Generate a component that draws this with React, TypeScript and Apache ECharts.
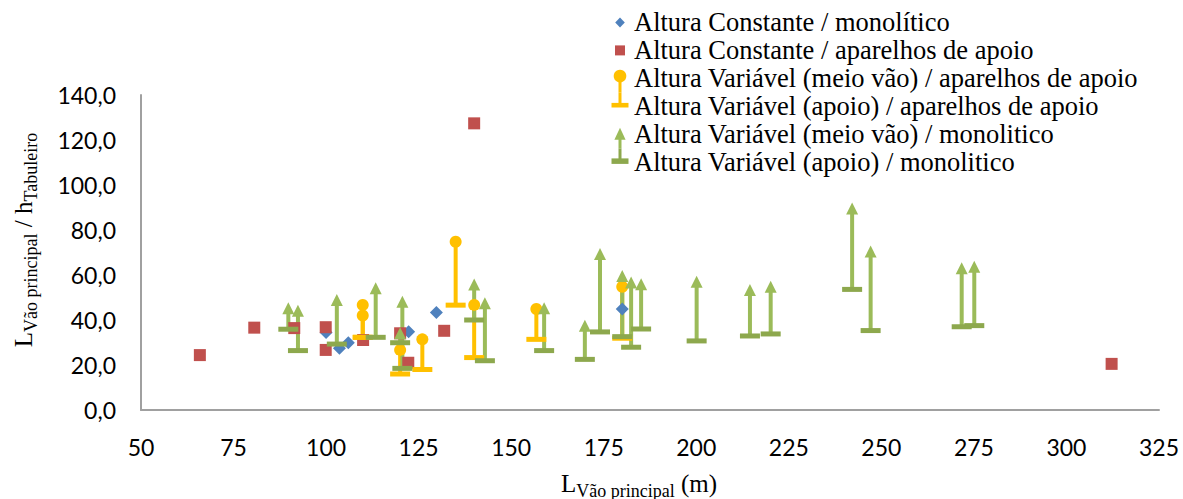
import { useEffect, useRef } from 'react';
import * as echarts from 'echarts';

// ---- data ----
const seriesNames = [
  'Altura Constante / monolítico',
  'Altura Constante / aparelhos de apoio',
  'Altura Variável (meio vão) / aparelhos de apoio',
  'Altura Variável (apoio) / aparelhos de apoio',
  'Altura Variável (meio vão) / monolitico',
  'Altura Variável (apoio) / monolitico',
];

const constMonoX = [100.0, 103.6, 106.0, 122.3, 129.8, 180.0];
const constMonoY = [34.5, 27.5, 29.9, 34.8, 43.3, 44.9];

const constApoioX = [65.9, 80.6, 91.4, 99.9, 99.9, 110.0, 120.0, 122.2, 131.9, 140.0, 312.2];
const constApoioY = [24.4, 36.6, 36.4, 36.8, 26.7, 31.1, 34.1, 21.0, 35.2, 127.4, 20.5];

const varApX = [109.9, 109.9, 120.0, 126.0, 135.0, 140.0, 156.8, 180.0];
const varApMeio = [46.7, 42.0, 26.7, 31.4, 74.8, 46.7, 44.9, 54.8];
const varApApoio = [32.3, 32.3, 16.0, 18.0, 46.6, 23.3, 31.4, 31.9];

const varMonoX = [89.8, 92.4, 102.9, 113.4, 120.6, 120.0, 140.0, 142.9, 158.9, 169.9, 174.0, 180.0, 182.4, 185.1, 200.1, 214.5, 220.1, 242.1, 247.1, 271.7, 275.1];
const varMonoMeio = [45.2, 44.1, 48.9, 54.1, 48.1, 34.1, 55.8, 47.4, 45.2, 37.5, 69.3, 59.6, 56.7, 55.9, 57.0, 53.3, 54.8, 89.6, 70.4, 63.0, 63.7];
const varMonoApoio = [35.9, 26.4, 29.3, 32.3, 18.5, 29.9, 40.0, 21.9, 26.4, 22.5, 34.7, 32.6, 27.9, 36.0, 30.7, 32.9, 33.8, 53.6, 35.3, 37.0, 37.5];

const xMin = 50, xMax = 325, xStep = 25;
const yMin = 0, yMax = 140, yStep = 20;

// ---- styles ----
const BLUE = '#4F81BD';
const RED = '#C0504D';
const YELLOW = '#FFC000';
const GREEN = '#9BBB59';
const GREEN_DARK = '#8DA84D';
const SERIF = 'Liberation Serif';
const SANS = 'Lato';

// legend layout
const LEG_X = 620;      // icon centre
const LEG_TEXT_X = 634;
const LEG_TOP = 22.4;   // first row centre
const LEG_ROW = 28;

function pairLines(name: string, xs: number[], lo: number[], hi: number[], color: string) {
  return {
    type: 'custom',
    name,
    silent: true,
    data: xs.map((x, i) => [x, lo[i], hi[i]]),
    encode: { x: 0, y: [1, 2] },
    renderItem: (_params: any, api: any) => {
      const a = api.coord([api.value(0), api.value(1)]);
      const b = api.coord([api.value(0), api.value(2)]);
      return {
        type: 'line',
        shape: { x1: a[0], y1: a[1], x2: b[0], y2: b[1] },
        style: { stroke: color, lineWidth: 4 },
      };
    },
  };
}

function scatter(name: string, xs: number[], ys: number[], symbol: string, size: any, color: string) {
  return {
    type: 'scatter',
    name,
    symbol,
    symbolSize: size,
    itemStyle: { color, opacity: 1 },
    emphasis: { disabled: true },
    data: xs.map((x, i) => [x, ys[i]]),
  };
}

function legendIcons(): any[] {
  const c = (i: number) => LEG_TOP + LEG_ROW * i;
  const X = LEG_X;
  const out: any[] = [];
  // 0 diamond
  out.push({ type: 'polygon', shape: { points: [[X, c(0) - 5], [X + 4.8, c(0)], [X, c(0) + 5], [X - 4.8, c(0)]] }, style: { fill: BLUE } });
  // 1 square
  out.push({ type: 'rect', shape: { x: X - 5, y: c(1) - 5, width: 10, height: 10 }, style: { fill: RED } });
  // 2 yellow meio: circle + stem down
  const mid23 = (c(2) + c(3)) / 2;
  out.push({ type: 'rect', shape: { x: X - 1.5, y: c(2) - 2.4, width: 3, height: mid23 - (c(2) - 2.4) }, style: { fill: YELLOW } });
  out.push({ type: 'circle', shape: { cx: X, cy: c(2) - 2.4, r: 6.3 }, style: { fill: YELLOW } });
  // 3 yellow apoio: dash + stem up
  out.push({ type: 'rect', shape: { x: X - 1.5, y: mid23, width: 3, height: c(3) - 1.2 - mid23 }, style: { fill: YELLOW } });
  out.push({ type: 'rect', shape: { x: X - 8.5, y: c(3) - 3.5, width: 17, height: 4.6 }, style: { fill: YELLOW } });
  // 4 green meio: triangle + stem down
  const mid45 = (c(4) + c(5)) / 2;
  out.push({ type: 'rect', shape: { x: X - 1.5, y: c(4) + 4, width: 3, height: mid45 - (c(4) + 4) }, style: { fill: GREEN } });
  out.push({ type: 'polygon', shape: { points: [[X, c(4) - 6.6], [X + 5.6, c(4) + 5.4], [X - 5.6, c(4) + 5.4]] }, style: { fill: GREEN } });
  // 5 green apoio: dash + stem up
  out.push({ type: 'rect', shape: { x: X - 1.5, y: mid45, width: 3, height: c(5) - 1.2 - mid45 }, style: { fill: GREEN_DARK } });
  out.push({ type: 'rect', shape: { x: X - 8.5, y: c(5) - 4, width: 17, height: 5.5 }, style: { fill: GREEN_DARK } });
  seriesNames.forEach((n, i) => {
    out.push({
      type: 'text',
      x: LEG_TEXT_X,
      y: c(i),
      style: { text: n, fontFamily: SERIF, fontSize: 26.5, fill: '#000', align: 'left', verticalAlign: 'middle' },
    });
  });
  return out;
}

export default function App() {
  const ref = useRef<HTMLDivElement>(null);
  useEffect(() => {
    if (!ref.current) return;
    const chart = echarts.init(ref.current, undefined, { renderer: 'svg' });
    const subRich = {
      m: { fontSize: 25, fontFamily: SERIF, fill: '#000', color: '#000', lineHeight: 32 },
      s: { fontSize: 18, fontFamily: SERIF, fill: '#000', color: '#000', lineHeight: 18, padding: [14, 0, 0, 0] },
    };
    chart.setOption({
      animation: false,
      backgroundColor: '#fff',
      grid: { left: 141, right: 24, top: 95, bottom: 89, containLabel: false, outerBoundsMode: 'none' },
      xAxis: {
        type: 'value',
        min: xMin,
        max: xMax,
        interval: xStep,
        axisLine: { show: true, lineStyle: { color: '#A0A0A0', width: 2 } },
        axisTick: { show: false },
        splitLine: { show: false },
        axisLabel: { fontFamily: SANS, fontSize: 23, color: '#000', margin: 25 },
      },
      yAxis: {
        type: 'value',
        min: yMin,
        max: yMax,
        interval: yStep,
        axisLine: { show: true, lineStyle: { color: '#A0A0A0', width: 2 } },
        axisTick: { show: false },
        splitLine: { show: false },
        axisLabel: {
          fontFamily: SANS,
          fontSize: 23,
          color: '#000',
          margin: 25,
          formatter: (v: number) => v.toFixed(1).replace('.', ','),
        },
      },
      graphic: [
        ...legendIcons(),
        {
          type: 'text',
          x: 639,
          y: 483.5,
          style: {
            text: '{m|L}{s|Vão principal}{m| (m)}',
            rich: subRich,
            align: 'center',
            verticalAlign: 'middle',
          },
        },
        {
          type: 'text',
          x: 23.7,
          y: 240,
          rotation: Math.PI / 2,
          style: {
            text: '{m|L}{s|Vão principal}{m| / h}{s|Tabuleiro}',
            rich: subRich,
            align: 'center',
            verticalAlign: 'middle',
          },
        },
      ],
      series: [
        scatter(seriesNames[0], constMonoX, constMonoY, 'diamond', 13, BLUE),
        scatter(seriesNames[1], constApoioX, constApoioY, 'rect', 12, RED),
        pairLines('linhas aparelhos', varApX, varApApoio, varApMeio, YELLOW),
        scatter(seriesNames[2], varApX, varApMeio, 'circle', 12, YELLOW),
        scatter(seriesNames[3], varApX, varApApoio, 'rect', [20, 5], YELLOW),
        pairLines('linhas monolitico', varMonoX, varMonoApoio, varMonoMeio, GREEN),
        scatter(seriesNames[4], varMonoX, varMonoMeio, 'triangle', [12, 12], GREEN),
        scatter(seriesNames[5], varMonoX, varMonoApoio, 'rect', [20, 5], GREEN_DARK),
      ],
    });
    return () => chart.dispose();
  }, []);
  return (
    <div
      ref={ref}
      style={{ position: 'fixed', left: 0, top: 0, width: 1183, height: 499, background: '#fff' }}
    />
  );
}
